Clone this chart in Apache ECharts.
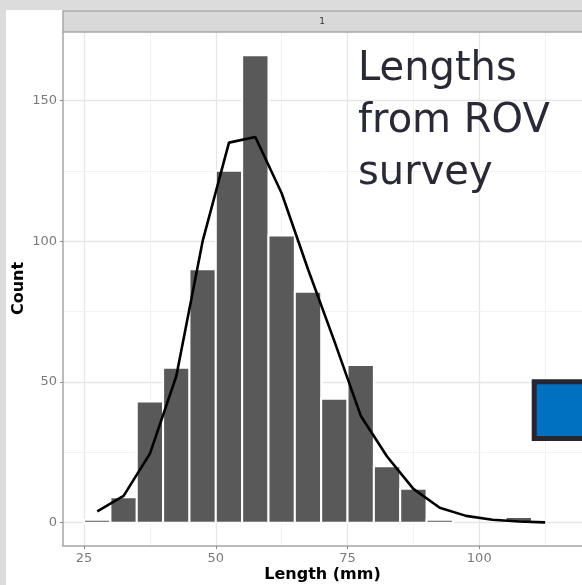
<!DOCTYPE html>
<html><head><meta charset="utf-8">
<script src="https://cdn.jsdelivr.net/npm/echarts@6/dist/echarts.min.js"></script>
<style>html,body{margin:0;padding:0;background:#fff;overflow:hidden}#c{width:582px;height:585px}</style>
</head><body><div id="c"></div>
<script>
// ---- data ----
const binCenters = [27.5, 32.5, 37.5, 42.5, 47.5, 52.5, 57.5, 62.5, 67.5, 72.5, 77.5, 82.5, 87.5, 92.5, 97.5, 102.5, 107.5, 112.5];
const counts     = [1, 9, 43, 55, 90, 125, 166, 102, 82, 44, 56, 20, 12, 1, 0, 0, 2, 0];
const densityCurve = [4, 9.5, 24.5, 52, 100, 135, 137, 117, 90, 64.5, 38, 23.5, 12, 5.3, 2.4, 1, 0.4, 0.1];
const binWidth = 5;
const xTicks = [25, 50, 75, 100];
const yTicks = [0, 50, 100, 150];
const xMinorGrid = [37.5, 62.5, 87.5, 112.5];
const yMinorGrid = [25, 75, 125];
const stripLabel = '1';
const xTitle = 'Length (mm)';
const yTitle = 'Count';
const annotationLines = ['Lengths', 'from ROV', 'survey'];

const FONT = 'DejaVu Sans';
const chart = echarts.init(document.getElementById('c'), null, {renderer: 'canvas'});

const gridLines = [];
xTicks.forEach(v => gridLines.push({xAxis: v, lineStyle: {color: '#e6e6e6', width: 1.3, type: 'solid'}}));
xMinorGrid.forEach(v => gridLines.push({xAxis: v, lineStyle: {color: '#f2f2f2', width: 1, type: 'solid'}}));
yTicks.forEach(v => gridLines.push({yAxis: v, lineStyle: {color: '#e6e6e6', width: 1.3, type: 'solid'}}));
yMinorGrid.forEach(v => gridLines.push({yAxis: v, lineStyle: {color: '#f2f2f2', width: 1, type: 'solid'}}));

const barData = binCenters.map((c, i) => [c, counts[i]]);
const lineData = binCenters.map((c, i) => [c, densityCurve[i]]);

const option = {
  backgroundColor: '#ffffff',
  animation: false,
  grid: {left: 63, right: 0, top: 32, bottom: 39, containLabel: false},
  xAxis: {
    type: 'value', min: 21, max: 119.5,
    axisLine: {show: true, onZero: false, lineStyle: {color: '#a6a6a6', width: 1.5}},
    axisTick: {show: true, length: 3, customValues: xTicks, lineStyle: {color: '#8a8a8a', width: 1}},
    axisLabel: {customValues: xTicks, margin: 6, color: '#7a7a7a', fontSize: 13, fontFamily: FONT},
    splitLine: {show: false}
  },
  yAxis: {
    type: 'value', min: -8.3, max: 174.3,
    axisLine: {show: true, lineStyle: {color: '#a6a6a6', width: 1.5}},
    axisTick: {show: true, length: 3, customValues: yTicks, lineStyle: {color: '#8a8a8a', width: 1}},
    axisLabel: {customValues: yTicks, margin: 6, color: '#7a7a7a', fontSize: 13, fontFamily: FONT},
    splitLine: {show: false}
  },
  series: [
    {
      type: 'line', data: [[21, 0]], showSymbol: false, silent: true, z: 0,
      lineStyle: {opacity: 0},
      markLine: {silent: true, z: 0, symbol: 'none', label: {show: false}, animation: false, data: gridLines}
    },
    {
      type: 'custom', z: 3, data: barData,
      renderItem: function (params, api) {
        const c = api.value(0), v = api.value(1);
        if (!(v > 0)) return {type: 'group', children: []};
        const p0 = api.coord([c - binWidth / 2, v]);
        const p1 = api.coord([c + binWidth / 2, 0]);
        return {
          type: 'rect',
          shape: {x: p0[0], y: p0[1], width: p1[0] - p0[0], height: p1[1] - p0[1]},
          style: {fill: '#595959', stroke: '#ffffff', lineWidth: 2}
        };
      }
    },
    {
      type: 'line', z: 4, data: lineData, showSymbol: false, smooth: false,
      lineStyle: {color: '#000000', width: 2.6}
    }
  ],
  graphic: [
    {type: 'rect', z: 1, silent: true, shape: {x: 0, y: 0, width: 6, height: 585}, style: {fill: '#dcdcdc'}},
    {type: 'rect', z: 1, silent: true, shape: {x: 0, y: 0, width: 582, height: 10}, style: {fill: '#dcdcdc'}},
    {type: 'rect', z: 1, silent: true, shape: {x: 63, y: 11, width: 522, height: 21}, style: {fill: '#d9d9d9', stroke: '#a8a8a8', lineWidth: 1.5}},
    {type: 'text', z: 2, silent: true, x: 322, y: 21.5, style: {text: stripLabel, fill: '#333333', font: '9px ' + FONT, align: 'center', verticalAlign: 'middle'}},
    {type: 'text', z: 2, silent: true, x: 18.5, y: 288.5, rotation: Math.PI / 2, style: {text: yTitle, fill: '#000000', font: 'bold 16px ' + FONT, align: 'center', verticalAlign: 'middle'}},
    {type: 'text', z: 2, silent: true, x: 322.5, y: 575, style: {text: xTitle, fill: '#000000', font: 'bold 16px ' + FONT, align: 'center', verticalAlign: 'middle'}},
    {type: 'text', z: 10, silent: true, x: 358, y: 69.5, style: {text: annotationLines[0], fill: '#2a2a36', font: '40px ' + FONT, align: 'left', verticalAlign: 'middle'}},
    {type: 'text', z: 10, silent: true, x: 358, y: 121.5, style: {text: annotationLines[1], fill: '#2a2a36', font: '40px ' + FONT, align: 'left', verticalAlign: 'middle'}},
    {type: 'text', z: 10, silent: true, x: 358, y: 173.5, style: {text: annotationLines[2], fill: '#2a2a36', font: '40px ' + FONT, align: 'left', verticalAlign: 'middle'}},
    {type: 'rect', z: 10, silent: true, shape: {x: 534.2, y: 381.8, width: 60, height: 56.7}, style: {fill: '#0070c0', stroke: '#262635', lineWidth: 5}}
  ]
};
chart.setOption(option);
</script>
</body></html>
